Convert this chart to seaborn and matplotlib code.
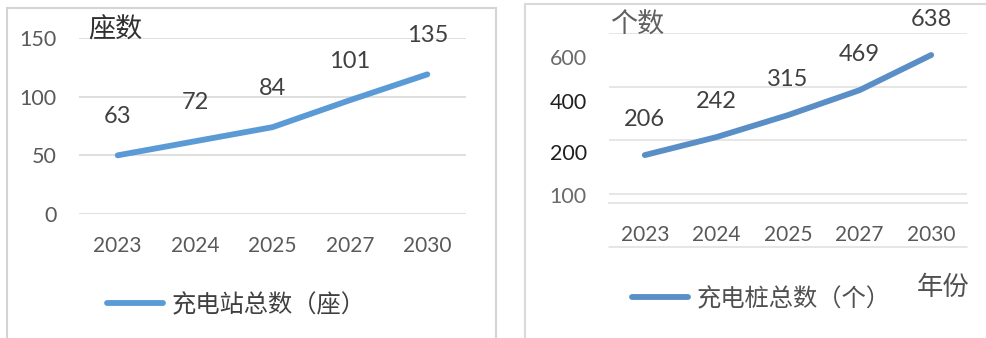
import matplotlib
matplotlib.use("Agg")
import matplotlib.pyplot as plt
import seaborn as sns
import pandas as pd
from matplotlib.patches import Rectangle
from matplotlib.lines import Line2D

# data
years = ["2023", "2024", "2025", "2027", "2030"]
station_line = [50, 62, 74, 97, 119]          # where the drawn line sits
station_labels = [63, 72, 84, 101, 135]       # numbers printed above it
pile_line = [145, 212, 294, 387, 518]
pile_labels = [206, 242, 315, 469, 638]
station_yticks = [0, 50, 100, 150]
pile_ytick_labels = ["100", "200", "400", "600"]

sns.set_theme(style="white")
plt.rcParams["font.family"] = ["Lato", "Noto Sans CJK SC", "DejaVu Sans"]

W, H = 987, 338
fig = plt.figure(figsize=(W / 100, H / 100), dpi=100)


def px_box(x0, y_top, x1, y_bot):
    return [x0 / W, 1 - y_bot / H, (x1 - x0) / W, (y_bot - y_top) / H]


# panel frames
fig.patches.append(Rectangle((7 / W, -0.01), (496 - 7) / W, 1 - 8 / H + 0.01,
                             transform=fig.transFigure, fill=False,
                             edgecolor="#D4D4D4", lw=1.5))
fig.patches.append(Rectangle((525 / W, -0.01), 0.5, 1 - 4 / H + 0.01,
                             transform=fig.transFigure, fill=False,
                             edgecolor="#DADADA", lw=1.5))

grid_c = "#D9D9D9"
num_c = "#404040"
tick_c = "#595959"
cjk = ["Noto Sans CJK SC", "DejaVu Sans"]

# ---------- left: charging stations ----------
df1 = pd.DataFrame({"year": years, "value": station_line})
ax1 = fig.add_axes(px_box(79, 38, 466, 214))
sns.lineplot(data=df1, x="year", y="value", ax=ax1, color="#5B9BD5", lw=4.2,
             solid_capstyle="round", label="充电站总数（座）", sort=False)
ax1.set_xlim(-0.5, 4.5)
ax1.set_ylim(0, 150)
ax1.set_yticks(station_yticks)
ax1.yaxis.grid(True, color=grid_c, lw=1.2)
ax1.tick_params(axis="y", labelsize=15.5, labelcolor=tick_c, length=0, pad=16)
ax1.tick_params(axis="x", labelsize=15, labelcolor=tick_c, length=0, pad=16)
for s in ax1.spines.values():
    s.set_visible(False)
ax1.set_xlabel("")
ax1.set_ylabel("")
for i, v in enumerate(station_labels):
    ax1.annotate(str(v), (i, station_line[i]), xytext=(0, 39),
                 textcoords="offset pixels", ha="center", va="center",
                 fontsize=17, color=num_c, annotation_clip=False)
leg1 = ax1.legend(loc="center left", bbox_to_anchor=(107 / W, 1 - 305 / H),
                  bbox_transform=fig.transFigure, frameon=False,
                  prop={"family": cjk, "size": 17.5, "weight": "light"},
                  handlelength=2.3, handletextpad=0.35, borderpad=0,
                  borderaxespad=0, labelcolor=num_c)
fig.text(88 / W, 1 - 30 / H, "座数", fontsize=19.5, color="#303030",
         family=cjk, weight="light", ha="left", va="center")

# ---------- right: charging piles ----------
df2 = pd.DataFrame({"year": years, "value": pile_line})
ax2 = fig.add_axes(px_box(609, 33, 967, 203))
sns.lineplot(data=df2, x="year", y="value", ax=ax2, color="#5A8EC6", lw=4.2,
             solid_capstyle="round", label="充电桩总数（个）", sort=False)
ax2.set_xlim(-0.5, 4.5)
ax2.set_ylim(-33.5, 600)
# gridlines every 200, tick text sits off the gridlines as in the source
ax2.set_yticks([0, 200, 400, 600], minor=True)
ax2.set_yticks([-4, 157, 347, 511], pile_ytick_labels)
ax2.yaxis.grid(False, which="major")
ax2.yaxis.grid(True, which="minor", color="#E2E2E2", lw=1.2)
ax2.tick_params(axis="y", which="both", length=0)
ax2.tick_params(axis="y", labelsize=15.5, labelcolor=tick_c, pad=16)
for lab, c in zip(ax2.get_yticklabels(), ["#6A6A6A", "#202020", "#202020", "#6A6A6A"]):
    lab.set_color(c)
ax2.tick_params(axis="x", labelsize=15, labelcolor=tick_c, length=0, pad=16)
for k, s in ax2.spines.items():
    s.set_visible(k == "bottom")
ax2.spines["bottom"].set_color("#E2E2E2")
ax2.spines["bottom"].set_linewidth(1.2)
ax2.set_xlabel("")
ax2.set_ylabel("")
for i, v in enumerate(pile_labels):
    ax2.annotate(str(v), (i, pile_line[i]), xytext=(0, 36),
                 textcoords="offset pixels", ha="center", va="center",
                 fontsize=17, color=num_c, annotation_clip=False)
ax2.legend(loc="center left", bbox_to_anchor=(632 / W, 1 - 299 / H),
           bbox_transform=fig.transFigure, frameon=False,
           prop={"family": cjk, "size": 17.5, "weight": "light"},
           handlelength=2.3, handletextpad=0.35, borderpad=0,
           borderaxespad=0, labelcolor="#505050")
fig.lines.append(Line2D([609 / W, 967 / W], [1 - 247 / H] * 2,
                        transform=fig.transFigure, color="#E2E2E2", lw=1.2))
fig.text(610 / W, 1 - 25 / H, "个数", fontsize=19.5, color="#606060",
         family=cjk, weight="light", ha="left", va="center")
fig.text(917 / W, 1 - 287 / H, "年份", fontsize=19, color="#505050",
         family=cjk, weight="light", ha="left", va="center")

fig.savefig("out.png", dpi=100)
